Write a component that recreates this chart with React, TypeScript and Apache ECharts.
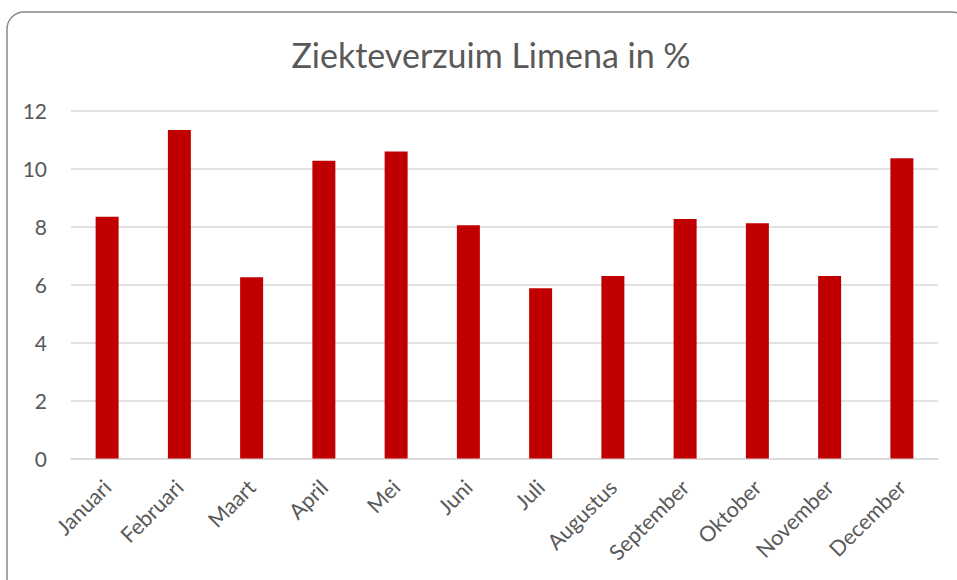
import React, { useEffect, useRef } from "react";
import * as echarts from "echarts";

const months = [
  "Januari", "Februari", "Maart", "April", "Mei", "Juni",
  "Juli", "Augustus", "September", "Oktober", "November", "December",
];
const verzuim = [8.34, 11.33, 6.25, 10.27, 10.59, 8.04, 5.87, 6.29, 8.26, 8.11, 6.29, 10.35];
const titleText = "Ziekteverzuim Limena in %";
const yMin = 0;
const yMax = 12;
const yStep = 2;

export default function App() {
  const ref = useRef<HTMLDivElement>(null);
  useEffect(() => {
    if (!ref.current) return;
    const chart = echarts.init(ref.current, null, { renderer: "svg" });
    const font = "Lato, 'Open Sans', sans-serif";
    chart.setOption({
      animation: false,
      backgroundColor: "#ffffff",
      title: {
        text: titleText,
        left: 486,
        textAlign: "center",
        top: 32,
        textStyle: { fontFamily: font, fontSize: 34, fontWeight: "normal", color: "#595959" },
      },
      grid: { left: 71, right: 19, top: 110.5, bottom: 121.5, containLabel: false },
      xAxis: {
        type: "category",
        data: months,
        axisLine: { show: true, lineStyle: { color: "#d9d9d9", width: 1.5 } },
        axisTick: { show: false },
        axisLabel: {
          rotate: 45,
          interval: 0,
          margin: 25,
          color: "#595959",
          fontFamily: font,
          fontSize: 21.5,
        },
      },
      yAxis: {
        type: "value",
        min: yMin,
        max: yMax,
        interval: yStep,
        axisLine: { show: false },
        axisTick: { show: false },
        splitLine: { lineStyle: { color: "#d9d9d9", width: 1.5 } },
        axisLabel: {
          margin: 24,
          color: "#595959",
          fontFamily: font,
          fontSize: 21,
        },
      },
      series: [
        {
          type: "bar",
          data: verzuim,
          barWidth: 23,
          itemStyle: { color: "#c00000" },
        },
      ],
      graphic: [
        {
          type: "rect",
          shape: { x: 7, y: 12, width: 962, height: 592, r: 17 },
          style: { fill: "none", stroke: "#898989", lineWidth: 1.5 },
          silent: true,
        },
      ],
    });
    return () => chart.dispose();
  }, []);
  return (
    <div
      ref={ref}
      style={{ position: "fixed", left: 0, top: 0, width: 957, height: 580 }}
    />
  );
}
